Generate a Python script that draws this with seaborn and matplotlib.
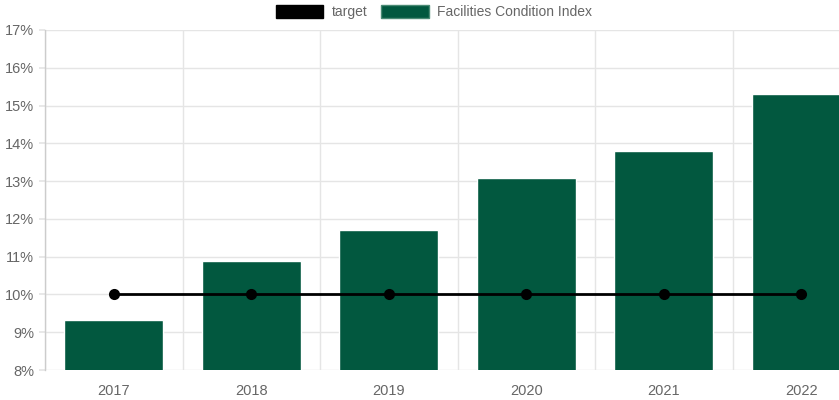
import matplotlib
matplotlib.use("Agg")
import matplotlib.pyplot as plt
import seaborn as sns
import pandas as pd
from matplotlib.patches import Patch
from matplotlib.ticker import FuncFormatter, MultipleLocator

years = ["2017", "2018", "2019", "2020", "2021", "2022"]
fci = [9.33, 10.89, 11.71, 13.07, 13.8, 15.31]
target = [10, 10, 10, 10, 10, 10]

sns.set_theme(style="white")
plt.rcParams['font.family'] = ['Liberation Sans', 'DejaVu Sans']

df = pd.DataFrame({"year": years, "fci": fci, "target": target})

fig = plt.figure(figsize=(8.39, 4.0), dpi=100)
ax = fig.add_axes([45/839, 30/400, 825/839, 340/400])

green = "#02583F"
sns.barplot(data=df, x="year", y="fci", color=green, width=0.72, ax=ax,
            saturation=1, zorder=2)
sns.pointplot(data=df, x="year", y="target", color="black", ax=ax,
              markers="o", markersize=6.5, linewidth=2, zorder=3)

ax.set_ylim(8, 17)
ax.set_xlim(-0.5, 5.5)
ax.yaxis.set_major_locator(MultipleLocator(1))
ax.yaxis.set_major_formatter(FuncFormatter(lambda v, p: f"{int(round(v))}%"))
ax.set_xlabel("")
ax.set_ylabel("")

ax.set_xticks([i - 0.5 for i in range(7)], minor=True)
ax.grid(True, which="major", axis="y", color="#e5e5e5", linewidth=1, zorder=0)
ax.grid(True, which="minor", axis="x", color="#e5e5e5", linewidth=1, zorder=0)
ax.set_axisbelow(True)
ax.tick_params(axis="x", which="major", length=0, labelsize=10.5, labelcolor="#666666", pad=10)
ax.tick_params(axis="x", which="minor", length=10, color="#e5e5e5", width=1)
ax.tick_params(axis="y", which="major", length=4, color="#e5e5e5", labelsize=10.5,
               labelcolor="#666666", pad=4, left=True)
for s in ["top", "right", "bottom"]:
    ax.spines[s].set_visible(False)
ax.spines["left"].set_color("#cccccc")
ax.spines["left"].set_linewidth(1)

handles = [Patch(facecolor="black", edgecolor="black", label="target"),
           Patch(facecolor=green, edgecolor="#4a8a74", label="Facilities Condition Index")]
fig.legend(handles=handles, loc="center", bbox_to_anchor=(434/839, 1 - 12/400),
           ncol=2, frameon=False, handlelength=3.4, handleheight=1.1,
           fontsize=10, labelcolor="#666666", columnspacing=1.0, handletextpad=0.6)

fig.savefig("out.png", dpi=100)
